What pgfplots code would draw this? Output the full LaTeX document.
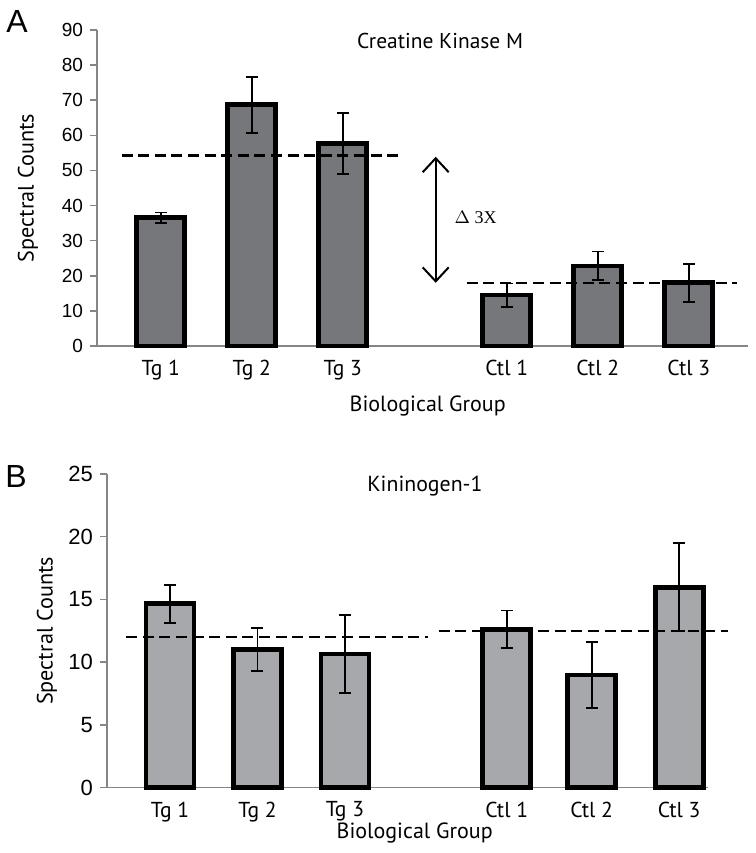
\documentclass[border=0pt]{standalone}
\usepackage{graphicx}
\usepackage{fontspec}
\setmainfont{PT Sans}
\newfontfamily\tickfont{Liberation Sans}
\newfontfamily\seriffont{Liberation Serif}
\usepackage{pgfplots}
\pgfplotsset{compat=1.18}
\usetikzlibrary{arrows.meta}
\definecolor{barA}{HTML}{76777A}
\definecolor{barB}{HTML}{A6A8AB}
\definecolor{axgray}{HTML}{858585}

\pgfplotstableread{
x y e
0 36.5 1.5
1 68.7 8.0
2 57.7 8.6
3.8 14.5 3.3
4.8 22.8 4.1
5.8 18.0 5.4
}\dataA

\pgfplotstableread{
x y e
0 14.65 1.5
1 11.03 1.7
2 10.65 3.1
3.85 12.62 1.5
4.82 8.98 2.6
5.82 15.97 3.5
}\dataB

\pgfplotsset{
  panel/.style={
    scale only axis,
    axis lines*=left,
    axis line style={axgray, line width=0.75pt},
    clip=false,
    ymin=0,
    tick align=outside,
    major tick length=3.5pt,
    ytick style={axgray, line width=0.75pt},
    xtick style={draw=none},
    /pgf/number format/assume math mode=true,
    xticklabels={Tg 1,Tg 2,Tg 3,Ctl 1,Ctl 2,Ctl 3},
    xticklabel style={font=\fontsize{10.8}{12}\selectfont},
    ylabel={\resizebox{74pt}{!}{Spectral Counts}},
    xlabel={\resizebox{78pt}{!}{Biological Group}},
  },
  errb/.style={
    error bars/.cd, y dir=both, y explicit,
    error bar style={line width=0.9pt, black},
    error mark options={rotate=90, mark size=3pt, line width=0.9pt, black},
  },
  refline/.style={black, line width=1.2pt, dash pattern=on 5.5pt off 2.8pt},
}

\begin{document}
\begin{tikzpicture}
\path[use as bounding box] (0,0) rectangle (378pt,426.5pt);

% Panel A
\begin{axis}[panel,
  at={(48.5pt,253.5pt)}, anchor=south west,
  width=325.5pt, height=158pt,
  xmin=-0.70, xmax=6.45, ymax=90,
  ytick={0,10,...,90},
  xtick={0,1,2,3.8,4.8,5.8},
  yticklabel style={font=\tickfont\fontsize{9.5}{11}\selectfont},
  ylabel style={at={(axis description cs:-0.106,0.5)}, anchor=center},
  xlabel style={at={(axis description cs:0.508,-0.19)}, anchor=center},
]
\addplot[ybar, bar width=24pt, fill=barA, draw=black, line width=2.4pt, errb]
  table[x=x, y=y, y error=e] {\dataA};
\addplot[refline] coordinates {(-0.43,54.2) (2.63,54.2)};
\addplot[refline] coordinates {(3.36,18.0) (6.33,18.0)};
\addplot[black, line width=1pt, {Straight Barb[length=7pt,width=13pt]}-{Straight Barb[length=7pt,width=13pt]}]
  coordinates {(3.02,53.9) (3.02,18.0)};
\node[anchor=west, font=\seriffont\fontsize{9}{11}\selectfont] at (axis cs:3.15,36.5) {$\Delta$ 3X};
\node at (axis description cs:0.527,0.965) {\resizebox{83pt}{!}{Creatine Kinase M}};
\end{axis}

% Panel B
\begin{axis}[panel,
  at={(53.5pt,32.65pt)}, anchor=south west,
  width=300.5pt, height=156.85pt,
  xmin=-0.72, xmax=6.15, ymax=25,
  ytick={0,5,...,25},
  xtick={0,1,2,3.85,4.82,5.82},
  yticklabel style={font=\tickfont\fontsize{11}{13}\selectfont},
  ylabel style={at={(axis description cs:-0.0998,0.5)}, anchor=center},
  xlabel style={at={(axis description cs:0.512,-0.144)}, anchor=center},
]
\addplot[ybar, bar width=24pt, fill=barB, draw=black, line width=2.4pt, errb]
  table[x=x, y=y, y error=e] {\dataB};
\addplot[refline] coordinates {(-0.50,12.03) (2.95,12.03)};
\addplot[refline] coordinates {(3.07,12.5) (6.38,12.5)};
\node at (axis description cs:0.529,0.962) {\resizebox{57.5pt}{!}{Kininogen-1}};
\end{axis}

\node[font=\tickfont\fontsize{16}{18}\selectfont] at (8.5pt,416pt) {A};
\node[font=\tickfont\fontsize{16}{18}\selectfont] at (8pt,188.5pt) {B};
\end{tikzpicture}
\end{document}
